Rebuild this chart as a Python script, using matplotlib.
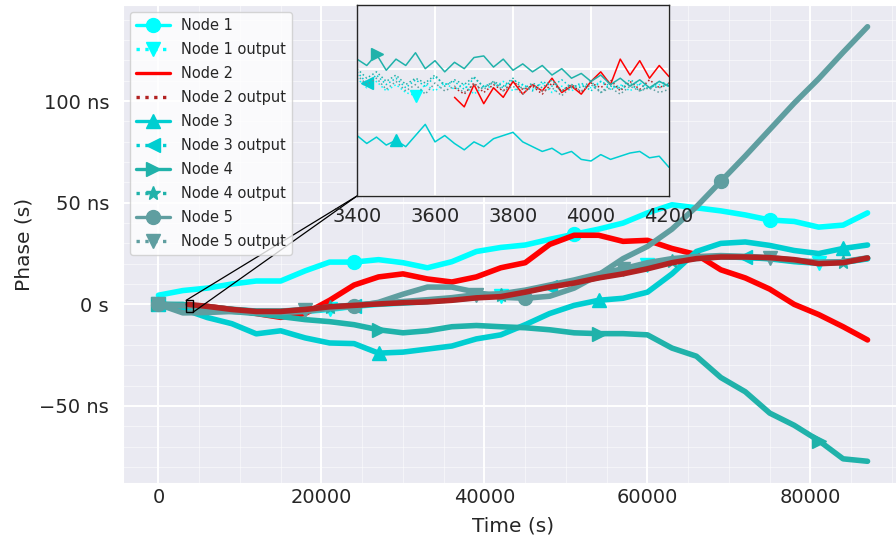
import numpy as np
import matplotlib
matplotlib.use("Agg")
import matplotlib.pyplot as plt
import seaborn as sns
from matplotlib.lines import Line2D
from matplotlib.patches import Rectangle, ConnectionPatch
from matplotlib.ticker import EngFormatter, MultipleLocator, AutoMinorLocator

# time grid (s); node 2 only joins at ~3650 s
t = np.arange(0, 87001, 3000)
t2 = np.r_[3650, t[2:]]

# phase (ns)
node1 = [4.5, 6.8, 8, 10, 11.5, 11.5, 16.5, 20.8, 20.8, 22, 20.5, 18, 21, 26, 28,
         29.2, 32, 34.5, 37, 40, 45, 49, 47.5, 46, 44, 41.5, 40.8, 38, 39, 45]
node2 = [-0.6, -1, -2.5, -4.5, -6.4, -4.5, 2, 9.5, 13.5, 15, 12.5, 11, 13.5, 18,
         20.5, 29.5, 34, 34, 31, 31.5, 27.5, 24.5, 17, 13, 7.5, 0, -5, -11, -17.5]
node3 = [0, -2.3, -6.5, -9.5, -14.5, -13, -16.5, -19, -19.3, -24, -23.5, -22, -20.5,
         -17, -15, -10, -4.5, -0.5, 2, 3, 6, 15, 26, 30, 30.7, 29, 26.5, 25, 27.5, 29.2]
node4 = [0, 0, -2.5, -3.5, -4.5, -6, -7.5, -8.5, -10, -12.5, -14, -13, -11, -10.4, -11,
         -11.5, -12.5, -14, -14.4, -14.4, -15, -21.5, -25.5, -36, -43, -53.5, -59.5,
         -67, -76, -77.2]
node5 = [0, -4.2, -4, -3.5, -4, -4, -3.5, -2, -1, 1, 5, 8.5, 8.5, 6, 3.5, 3, 4, 8,
         14.5, 22.5, 28.5, 37, 48, 60.5, 73, 86, 99, 111, 124, 136.6]

out1 = [0, -0.6, -1.5, -2.8, -3.8, -4, -3.5, -2.5, -1, 0, 0.6, 1.4, 2.2, 3.4, 4.2,
        6.2, 8.8, 11, 13.5, 16, 19.5, 21.5, 22.8, 23.5, 23, 22.6, 21.5, 20.5, 20.8, 22.5]
out2 = [0, -1, -2.5, -3.5, -3.5, -2.5, -1.2, -0.5, 0.2, 0.8, 1.2, 2, 3.2, 3.8, 6,
        8.5, 10.5, 13, 15, 17.5, 20.5, 22.5, 23.3, 23.3, 23, 22, 20, 20.5, 22.8]
out3 = [0, -0.5, -1.2, -2.6, -3.4, -3.6, -2.8, -1.5, -0.6, 0.4, 0.9, 1.5, 2.4, 3.5, 4.4,
        6.5, 8.6, 10.8, 13.2, 15.6, 18.8, 21.2, 22.6, 23.4, 23.1, 22.4, 21, 20.2, 20.6, 22.4]
out4 = [0, -0.3, -1.3, -2.4, -3.3, -3.3, -2.6, -1.3, -0.4, 0.3, 1, 1.6, 2.5, 3.6, 4.5,
        6.6, 8.9, 10.9, 13.3, 15.8, 19, 21.4, 22.9, 23.6, 23.4, 22.7, 21.3, 20.4, 20.9, 22.7]
out5 = [0, -0.7, -1.6, -2.9, -3.6, -3.5, -2.7, -1.4, -0.3, 0.6, 1.4, 2.3, 3.3, 4.8, 5.2,
        7, 9.5, 12, 15, 17.5, 20.5, 22.5, 23.5, 24, 23.6, 23, 21.8, 20.8, 21, 22.9]

# zoomed window 3400-4200 s (ns)
tz = np.arange(3400, 4201, 25)
tz2 = tz[10:]
z_node2 = [-0.9, -1.2, -0.5, -1.1, -0.6, -0.9, -0.4, -0.8, -0.5, -0.7, -0.3, -0.75,
           -0.55, -0.8, -0.4, -0.1, -0.5, 0.3, -0.2, 0.25, -0.3, 0.1, -0.25]
z_node3 = [-2.1, -2.35, -2.15, -2.4, -2.25, -2.45, -2.1, -1.75, -2.3, -2.1, -2.35, -2.55,
           -2.3, -2.45, -2.2, -2.1, -2.0, -2.3, -2.45, -2.6, -2.5, -2.7, -2.6, -2.85,
           -2.9, -2.7, -2.85, -2.75, -2.65, -2.6, -2.8, -2.75, -3.1]
z_node4 = [0.3, 0.1, 0.45, -0.05, 0.3, 0.1, 0.5, 0.0, 0.25, -0.1, 0.2, 0.0, 0.35, 0.4,
           0.05, 0.3, -0.05, 0.15, -0.1, 0.1, -0.2, 0.0, -0.3, -0.15, -0.4, -0.2, -0.5,
           -0.3, -0.55, -0.35, -0.6, -0.4, -0.55]
z_out1 = [-0.3, -0.6, -0.4, -0.7, -0.5, -0.75, -0.85, -0.5, -0.7, -0.45, -0.65, -0.5,
          -0.8, -0.55, -0.6, -0.4, -0.7, -0.5, -0.65, -0.45, -0.75, -0.55, -0.7, -0.5,
          -0.6, -0.4, -0.65, -0.5, -0.7, -0.45, -0.6, -0.5, -0.55]
z_out2 = [-0.6, -0.8, -0.45, -0.75, -0.5, -0.7, -0.4, -0.65, -0.55, -0.8, -0.45, -0.7,
          -0.5, -0.75, -0.45, -0.6, -0.35, -0.7, -0.4, -0.65, -0.35, -0.6, -0.45]
z_out3 = [-0.1, -0.45, -0.2, -0.5, -0.3, -0.6, -0.35, -0.55, -0.25, -0.5, -0.4, -0.65,
          -0.3, -0.55, -0.45, -0.6, -0.35, -0.5, -0.7, -0.4, -0.55, -0.35, -0.6, -0.45,
          -0.7, -0.4, -0.55, -0.6, -0.35, -0.5, -0.65, -0.4, -0.5]
z_out4 = [0.0, -0.3, -0.1, -0.4, -0.2, -0.5, -0.3, -0.45, -0.2, -0.55, -0.35, -0.5,
          -0.25, -0.6, -0.4, -0.55, -0.3, -0.65, -0.45, -0.6, -0.35, -0.7, -0.5, -0.6,
          -0.4, -0.75, -0.5, -0.65, -0.45, -0.7, -0.55, -0.6, -0.5]
z_out5 = [-0.2, -0.5, -0.3, -0.65, -0.4, -0.7, -0.5, -0.8, -0.45, -0.7, -0.55, -0.75,
          -0.5, -0.65, -0.4, -0.7, -0.55, -0.8, -0.5, -0.7, -0.6, -0.85, -0.55, -0.7,
          -0.5, -0.75, -0.6, -0.8, -0.55, -0.7, -0.6, -0.75, -0.65]

labels = ["Node 1", "Node 1 output", "Node 2", "Node 2 output", "Node 3",
          "Node 3 output", "Node 4", "Node 4 output", "Node 5", "Node 5 output"]
colors = ["cyan", "cyan", "red", "firebrick", "darkturquoise", "darkturquoise",
          "lightseagreen", "lightseagreen", "cadetblue", "cadetblue"]
markers = ["o", "v", None, None, "^", "<", ">", "*", "o", "v"]

main = [(t, node1), (t, out1), (t2, node2), (t2, out2), (t, node3), (t, out3),
        (t, node4), (t, out4), (t, node5), (t, out5)]
main_marks = [[8, 17, 25], [0, 7, 14, 20, 27], None, None, [0, 9, 18, 28],
              [0, 8, 16, 24], [0, 9, 18, 27], [0, 7, 14, 21, 28], [0, 8, 15, 23],
              [0, 6, 13, 19, 25]]

zoom = [None, (tz, z_out1), (tz2, z_node2), (tz2, z_out2), (tz, z_node3), (tz, z_out3),
        (tz, z_node4), (tz, z_out4), None, (tz, z_out5)]
zoom_marks = [None, [6], None, None, [4], [1], [2], None, None, None]

sns.set_style("darkgrid")
plt.rcParams["font.family"] = ["DejaVu Sans"]
ns = 1e-9

fig = plt.figure(figsize=(8.96, 5.42), dpi=100)
ax = fig.add_axes([123 / 896, 59 / 542, 780 / 896, 478 / 542])

for i, (x, y) in enumerate(main):
    ax.plot(x, np.array(y) * ns, color=colors[i], ls="-", lw=4,
            marker=markers[i], markevery=main_marks[i], ms=10,
            zorder=2.6 if labels[i] == "Node 2 output" else 2)

ax.xaxis.set_major_locator(MultipleLocator(20000))
ax.yaxis.set_major_locator(MultipleLocator(50 * ns))
ax.yaxis.set_major_formatter(EngFormatter(unit="s"))
ax.xaxis.set_minor_locator(AutoMinorLocator())
ax.yaxis.set_minor_locator(AutoMinorLocator())
ax.grid(which="major", color="white", lw=1.4)
ax.grid(which="minor", color="white", lw=0.7, alpha=0.5)
ax.tick_params(which="both", length=0, labelsize=14)
ax.tick_params(axis="y", pad=10)
ax.set_xlabel("Time (s)", fontsize=14.5, labelpad=7)
ax.set_ylabel("Phase (s)", fontsize=14.5)

handles = [Line2D([], [], color=colors[i], ls=":" if labels[i].endswith("output") else "-",
                  lw=2.4, marker=markers[i], ms=10) for i in range(len(labels))]
ax.legend(handles, labels, loc="upper left", fontsize=10.5, handlelength=2.3,
          framealpha=0.8, facecolor="white", labelspacing=0.62)

# zoomed inset
axins = fig.add_axes([357 / 896, 346 / 542, 312 / 896, 191 / 542])
for i, item in enumerate(zoom):
    if item is None:
        continue
    x, y = item
    is_out = labels[i].endswith("output")
    mk = markers[i] if zoom_marks[i] else None
    axins.plot(x, np.array(y) * ns, color=colors[i], ls=":" if is_out else "-",
               lw=1.1, marker=mk, markevery=zoom_marks[i], ms=9)
axins.set_xlim(3400, 4200)
axins.set_ylim(-4 * ns, 2 * ns)
axins.xaxis.set_major_locator(MultipleLocator(200))
axins.yaxis.set_major_locator(MultipleLocator(2 * ns))
axins.set_yticklabels([])
axins.tick_params(length=0, labelsize=14, pad=8)
axins.grid(color="white", lw=1.4)
for s in axins.spines.values():
    s.set_visible(True)
    s.set_color("0.15")
    s.set_linewidth(1)

x0, x1 = axins.get_xlim()
y0, y1 = axins.get_ylim()
ax.add_patch(Rectangle((x0, y0), x1 - x0, y1 - y0, fill=False, ec="black", lw=1, zorder=3))
for corner in [(x0, y1), (x1, y0)]:
    cp = ConnectionPatch(xyA=(0, 0), coordsA=axins.transAxes, xyB=corner,
                         coordsB=ax.transData, color="black", lw=0.9, zorder=4)
    ax.add_artist(cp)

fig.savefig("out.png", dpi=100)
